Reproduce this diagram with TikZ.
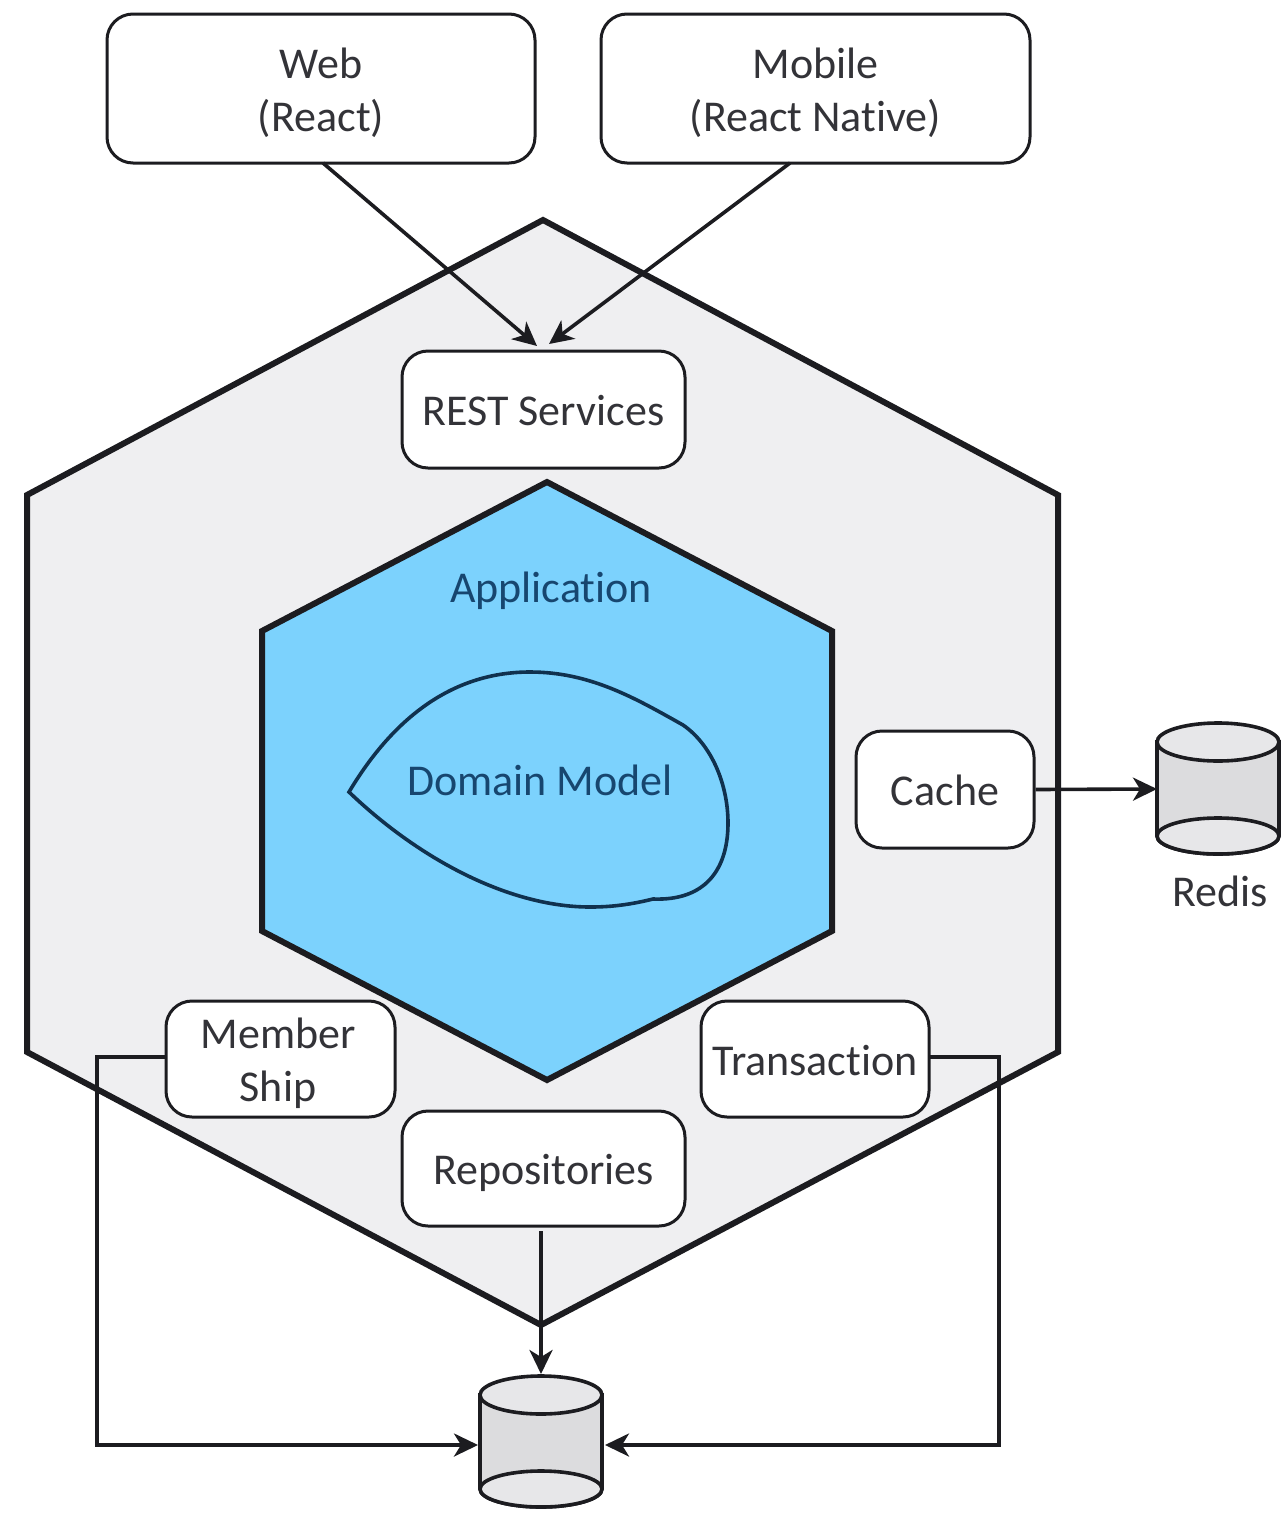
\documentclass[tikz,border=0pt]{standalone}
\usepackage{fontspec}
\setmainfont[Ligatures=NoCommon]{Carlito}
\usetikzlibrary{arrows.meta,calc}
\definecolor{outerfill}{HTML}{EFEFF1}
\definecolor{innerfill}{HTML}{7CD2FD}
\definecolor{inkdark}{HTML}{1C1C20}
\definecolor{labelgrey}{HTML}{333338}
\definecolor{labelblue}{HTML}{17466F}
\definecolor{drumfill}{HTML}{DCDCDE}
\tikzset{
  x=1pt, y=-1pt,
  lbl/.style={font=\fontsize{44}{53}\selectfont, text=labelgrey, align=center},
  bluelbl/.style={font=\fontsize{44}{53}\selectfont, text=labelblue},
  svcbox/.style={lbl, draw=inkdark, line width=3pt, fill=white, rounded corners=26pt, inner sep=0pt},
  hexline/.style={draw=inkdark, line width=6pt, line join=miter},
  flow/.style={draw=inkdark, line width=3.6pt, -{Stealth[length=24pt,width=23pt,inset=7pt]}},
  drumbody/.style={draw=inkdark, line width=3.6pt, fill=drumfill},
  drumcap/.style={draw=inkdark, line width=3.6pt, fill=outerfill!60!drumfill},
  anchorbox/.style={minimum width=#1, minimum height=76pt, inner sep=0pt, outer sep=0pt}
}
% A taller strut on a label's first line lowers the text inside its box
\newcommand{\firstline}[1]{\rule{0pt}{#1}}
% Storage drum: body, top ellipse and bottom ellipse, with a named node for connectors
\newcommand{\storagedrum}[4]{% name, centre x, top ellipse y, bottom ellipse y
  \path[drumbody] (#2-61,#3) -- (#2-61,#4) arc[x radius=61,y radius=-18,start angle=180,end angle=360] -- (#2+61,#3) -- cycle;
  \path[drumcap] (#2,#4) ellipse[x radius=61,y radius=18];
  \path[drumcap] (#2,#3) ellipse[x radius=61,y radius=19];
  \node[anchorbox=122pt] (#1) at (#2,{(#3+#4)/2}) {};
}
\begin{document}
\begin{tikzpicture}
\useasboundingbox (0,0) rectangle (1281,1516);
\fill[white] (0,0) rectangle (1281,1516);

% Outer and inner hexagons
\path[hexline, fill=outerfill] (543,220) -- (1058,495) -- (1058,1052) -- (541,1325) -- (27,1052) -- (27,495) -- cycle;
\path[hexline, fill=innerfill] (547,482) -- (832,631) -- (832,931) -- (547,1080) -- (262,931) -- (262,631) -- cycle;

% Domain model outline
\draw[draw=labelblue!70!black, line width=3.6pt, line join=miter]
  (349,792) .. controls (395,715) and (455,672) .. (530,672)
  .. controls (590,672) and (635,698) .. (683,725)
  .. controls (712,745) and (728,785) .. (728,823)
  .. controls (728,870) and (705,901) .. (653,899)
  .. controls (625,906) and (605,907) .. (590,907)
  .. controls (510,907) and (420,860) .. (349,792) -- cycle;
\node[bluelbl] (application) at (551,591) {Application};
\node[bluelbl] (domain) at (540,780) {Domain Model};

% Clients and services
\node[svcbox, minimum width=428pt, minimum height=149pt] (web) at (321,88.5) {\firstline{40pt}Web\\(React)};
\node[svcbox, minimum width=429pt, minimum height=149pt] (mobile) at (815.5,88.5) {\firstline{40pt}Mobile\\(React Native)};
\node[svcbox, minimum width=283pt, minimum height=117pt] (rest) at (543.5,409.5) {\firstline{33pt}REST Services};
\node[svcbox, minimum width=178pt, minimum height=117pt] (cache) at (945,789.5) {\firstline{33pt}Cache};
\node[svcbox, minimum width=229pt, minimum height=116pt] (member) at (280.5,1059) {\firstline{40pt}Member\hspace*{5pt}\\Ship\hspace*{5pt}};
\node[svcbox, minimum width=228pt, minimum height=116pt] (transaction) at (815,1059) {\firstline{33pt}Transaction};
\node[svcbox, minimum width=283pt, minimum height=115pt] (repos) at (543.5,1168.5) {\firstline{40pt}Repositories};

% Storage
\storagedrum{redis}{1218}{742}{836}
\storagedrum{db}{541}{1395}{1489}
\node[lbl] (redislabel) at (1220,891) {Redis};

% Connector end points that sit off the nodes' centre lines
\coordinate (webout) at (323,163);
\coordinate (mobileout) at (790,163);
\coordinate (restleft) at (537,346);
\coordinate (restright) at (549,344);
\coordinate (memberout) at (166,1057);
\coordinate (memberbend) at (97,1057);
\coordinate (transout) at (929,1057);
\coordinate (transbend) at (999,1057);
\coordinate (repoout) at (541,1231);
\coordinate (dbtop) at (541,1374);
\coordinate (dbleft) at (478,1445);
\coordinate (dbright) at (605,1445);

% Connectors
\draw[flow] (webout) -- (restleft);
\draw[flow] (mobileout) -- (restright);
\draw[flow] (cache.east) -- (redis.west);
\draw[flow] (repoout) -- (dbtop);
\draw[flow] (memberout) -- (memberbend) |- (dbleft);
\draw[flow] (transout) -- (transbend) |- (dbright);
\end{tikzpicture}
\end{document}
